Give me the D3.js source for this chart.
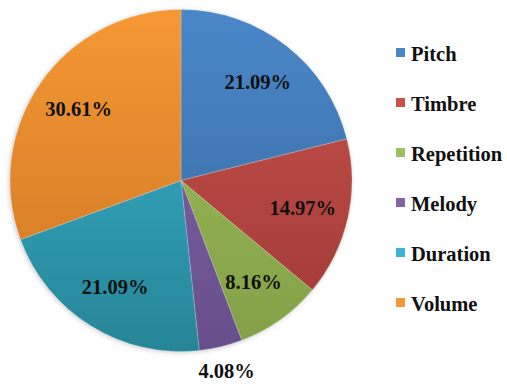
<!DOCTYPE html>
<html>
<head>
<meta charset="utf-8">
<script src="https://cdn.jsdelivr.net/npm/d3@7"></script>
<style>
  html, body { margin: 0; padding: 0; background: #ffffff; }
  svg { display: block; }
</style>
</head>
<body>
<svg id="chart" width="507" height="385"></svg>
<script>
const categories = ["Pitch", "Timbre", "Repetition", "Melody", "Duration", "Volume"];
const values = [21.09, 14.97, 8.16, 4.08, 21.09, 30.61];
const labels = ["21.09%", "14.97%", "8.16%", "4.08%", "21.09%", "30.61%"];
const topColors = ["#4a87c9", "#c9524e", "#9fc05c", "#8266a5", "#3ab4d0", "#f59834"];
const bottomColors = ["#36679c", "#9e3935", "#82a046", "#684f8c", "#268597", "#cc7624"];

const svg = d3.select("#chart");
const W = 507, H = 385;
const cx = 181, cy = 180.5, R = 171;

const defs = svg.append("defs");
categories.forEach((c, i) => {
  const g = defs.append("linearGradient")
    .attr("id", "grad" + i)
    .attr("gradientUnits", "userSpaceOnUse")
    .attr("x1", 0).attr("y1", cy - R)
    .attr("x2", 0).attr("y2", cy + R);
  g.append("stop").attr("offset", "0%").attr("stop-color", topColors[i]);
  g.append("stop").attr("offset", "100%").attr("stop-color", bottomColors[i]);
});
const blur = defs.append("filter").attr("id", "shadow")
  .attr("x", "-10%").attr("y", "-10%").attr("width", "120%").attr("height", "120%");
blur.append("feGaussianBlur").attr("stdDeviation", 2);

const color = d3.scaleOrdinal().domain(categories).range(categories.map((c, i) => "url(#grad" + i + ")"));
const legendColor = d3.scaleOrdinal().domain(categories).range(topColors);

const data = categories.map((c, i) => ({ name: c, value: values[i], label: labels[i] }));
const pie = d3.pie().value(d => d.value).sort(null);
const arcs = pie(data);
const arc = d3.arc().innerRadius(0).outerRadius(R);
const labelArc = d3.arc().innerRadius(R * 0.73).outerRadius(R * 0.73);
const outerLabelArc = d3.arc().innerRadius(R + 25).outerRadius(R + 25);

const g = svg.append("g").attr("transform", `translate(${cx},${cy})`);

g.append("circle").attr("cx", -1).attr("cy", 1).attr("r", R + 0.5)
  .attr("fill", "#9a9a9a").attr("opacity", 0.45).attr("filter", "url(#shadow)");

g.selectAll("path.slice").data(arcs).enter().append("path")
  .attr("class", "slice")
  .attr("d", arc)
  .attr("transform", `translate(0,0)`)
  .attr("fill", d => color(d.data.name))
  .attr("stroke", "rgba(255,255,255,0.35)")
  .attr("stroke-width", 0.6);

// re-apply gradient in absolute coords: gradients use userSpaceOnUse relative to the path's coordinate system
defs.selectAll("linearGradient").attr("y1", -R).attr("y2", R);

g.selectAll("text.lbl").data(arcs).enter().append("text")
  .attr("class", "lbl")
  .attr("transform", d => {
    const p = (d.data.value < 5 ? outerLabelArc : labelArc).centroid(d);
    return `translate(${p[0]},${p[1]})`;
  })
  .attr("text-anchor", "middle")
  .attr("dominant-baseline", "central")
  .attr("font-family", "'Liberation Serif', 'Times New Roman', serif")
  .attr("font-weight", "bold")
  .attr("font-size", "20.5px")
  .attr("fill", "#111111")
  .text(d => d.data.label);

const legendY = d3.scalePoint().domain(categories).range([54, 304]);
const lg = svg.append("g");
const items = lg.selectAll("g").data(categories).enter().append("g")
  .attr("transform", d => `translate(396,${legendY(d)})`);
items.append("rect").attr("x", 0).attr("y", -6).attr("width", 9).attr("height", 9)
  .attr("fill", d => legendColor(d));
items.append("text").attr("x", 15).attr("y", 7)
  .attr("font-family", "'Liberation Serif', 'Times New Roman', serif")
  .attr("font-weight", "bold")
  .attr("font-size", "20.5px")
  .attr("fill", "#111111")
  .text(d => d);
</script>
</body>
</html>
